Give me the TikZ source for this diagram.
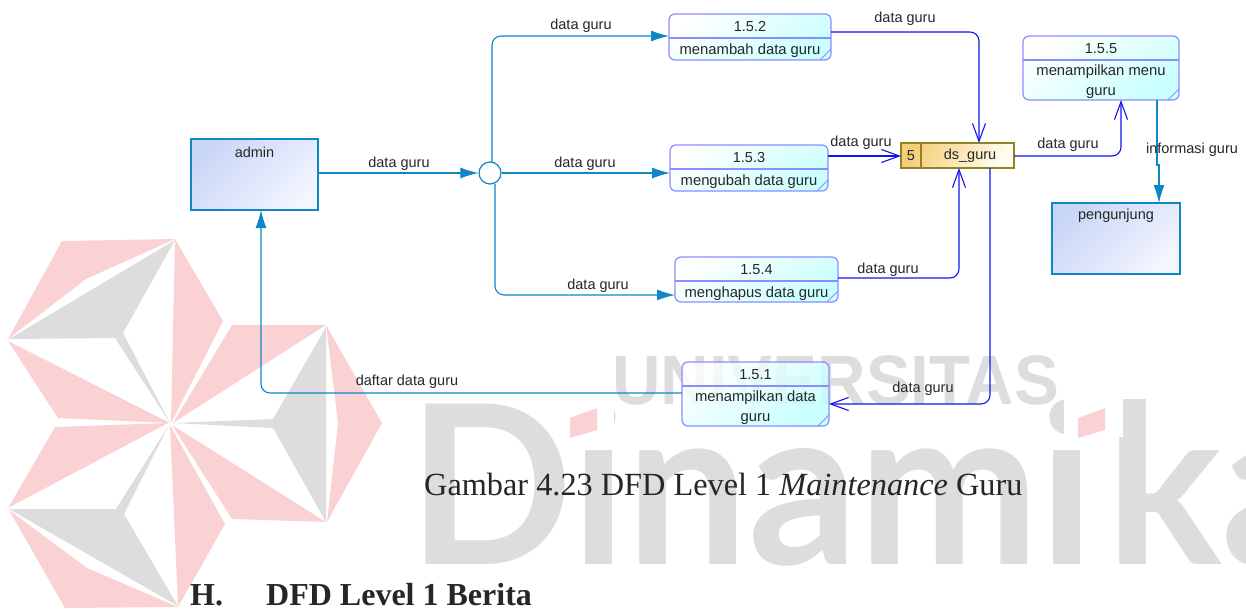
\documentclass[tikz,border=0pt]{standalone}
\usepackage{fontspec}
\setmainfont{Liberation Serif}
\newfontfamily\diafont{Liberation Sans}
\newfontfamily\markfont{Lato}
\usepackage{xcolor}
\usetikzlibrary{arrows.meta,positioning,calc}
\definecolor{linea}{HTML}{0F86C8}
\definecolor{lineb}{HTML}{1414F0}
\definecolor{procedge}{HTML}{8A8CFF}
\definecolor{procfill}{HTML}{BDFFFF}
\definecolor{entfilla}{HTML}{C6D4F6}
\definecolor{entfillb}{HTML}{F2F4FF}
\definecolor{storeedge}{HTML}{8E8420}
\definecolor{storefilla}{HTML}{F6CE78}
\definecolor{storefillb}{HTML}{FFFDF0}
\definecolor{markgrey}{HTML}{DDDDDD}
\definecolor{markpink}{HTML}{FAD2D4}
\tikzset{
	procbox/.style={draw=procedge,line width=1.2pt,rounded corners=6pt,top color=white,bottom color=procfill,shading angle=35,fill opacity=0.82},
	entbox/.style={draw=linea,line width=1.2pt,top color=entfilla,bottom color=entfillb,shading angle=45,fill opacity=0.95},
	flowa/.style={draw=linea,line width=1.1pt,rounded corners=9pt,-{Latex[length=18pt,width=11pt]}},
	flowb/.style={draw=lineb,line width=1.1pt,rounded corners=9pt,-{Straight Barb[length=18pt,width=13pt]}},
	flowlab/.style={font=\diafont\fontsize{14.5}{16}\selectfont,text=black!85,inner sep=0pt},
	capt/.style={text=black!85,inner sep=0pt,anchor=base west},
}
% one process box: name, left, top, right, bottom, divider, number, text
\newcommand{\procnode}[8]{
	\path[procbox] (#2,#3) rectangle (#4,#5);
	\draw[procedge,line width=1.2pt] (#2,#6)--(#4,#6);
	\draw[procedge,line width=1pt] (#4-11,#5)--(#4,#5-11);
	\node[flowlab] (#1) at ({(#2+#4)/2},{#3+13}) {#7};
	\node[flowlab,align=center,font=\diafont\fontsize{14.8}{20}\selectfont] (#1t) at ({(#2+#4)/2},{(#6+#5)/2+2}) {#8};
}
\begin{document}
\begin{tikzpicture}[x=1pt,y=-1pt]
	\useasboundingbox (0,0) rectangle (1246,608);
	\clip (0,0) rectangle (1246,608);
	
	% watermark
	\fill[markpink] (62,241)--(175,239)--(86,279)--(8,339)--cycle;
	\fill[markgrey] (9,339)--(175,240)--(123,333)--(170,423)--(115,338)--cycle;
	\fill[markpink] (175,239)--(223,321)--(171,423)--cycle;
	\fill[markpink] (8,341)--(170,423)--(58,418)--cycle;
	\fill[markpink] (232,325)--(326,325)--(173,423)--cycle;
	\fill[markgrey] (326,327)--(326,522)--(273,428)--(173,423)--(273,419)--cycle;
	\fill[markpink] (326,325)--(382,423)--(327,522)--(338,423)--cycle;
	\fill[markpink] (172,425)--(326,522)--(232,519)--cycle;
	\fill[markpink] (55,427)--(168,423)--(8,508)--cycle;
	\fill[markgrey] (9,509)--(116,509)--(169,425)--(124,514)--(178,606)--cycle;
	\fill[markpink] (9,510)--(87,568)--(178,607)--(65,608)--cycle;
	\fill[markpink] (170,425)--(225,524)--(178,607)--cycle;
	\node[inner sep=0pt,anchor=base west,text=markgrey,xscale=0.975,font=\markfont\bfseries\fontsize{222}{222}\selectfont] (dina) at (408,564) {Dinami\kern12pt ka};
	% i dots of the watermark are pink
	\fill[white] (560,380) rectangle (614,437);
	\fill[white] (1064,380) rectangle (1123,437);
	\fill[markpink] (570,418)--(597,408)--(597,430)--(570,438)--cycle;
	\fill[markpink] (1078,418)--(1105,408)--(1105,430)--(1078,438)--cycle;
	\node[inner sep=0pt,anchor=base west,text=markgrey,xscale=0.96,font=\diafont\bfseries\fontsize{70}{70}\selectfont] (univ) at (612,404) {UNIVERSITAS};
	
	% entities and store
	\path[entbox] (191,139) rectangle (318,210);
	\node[flowlab] (admin) at (254.5,152) {admin};
	\path[entbox] (1052,203) rectangle (1180,274);
	\node[flowlab] (pengunjung) at (1116,216) {pengunjung};
	\coordinate (adminr) at (318,173);
	\coordinate (adminb) at (261,210);
	\coordinate (pengt) at (1159,203);
	
	\path[draw=storeedge,line width=1.2pt,top color=storefilla,bottom color=storefillb,shading angle=60] (901,143) rectangle (1014,168);
	\draw[storeedge,line width=1.2pt] (921,143)--(921,168);
	\node[flowlab] (dsnum) at (911,155.5) {5};
	\node[flowlab] (dsguru) at (970,156) {ds\_guru};
	
	% processes
	\procnode{pb}{669}{14}{831}{60}{38}{1.5.2}{menambah data guru}
	\procnode{pc}{670}{145}{828}{191}{169}{1.5.3}{mengubah data guru}
	\procnode{pd}{675}{257}{838}{302}{281}{1.5.4}{menghapus data guru}
	\procnode{pa}{682}{362}{829}{426}{386}{1.5.1}{menampilkan data\\guru}
	\procnode{pe}{1023}{36}{1179}{100}{60}{1.5.5}{menampilkan menu\\guru}
	
	% junction
	\node[draw=linea,line width=1.2pt,circle,fill=white,minimum size=22pt,inner sep=0pt] (junc) at (490,173) {};
	
	% flows
	\draw[flowa] (adminr)--(junc.west);
	\draw[flowa] (junc.east)--(670,173);
	\draw[flowa] (492,162)--(492,36)--(669,36);
	\draw[flowa] (495,184)--(495,295)--(675,295);
	\draw[flowa] (682,393)--(261,393)--(adminb);
	\draw[flowa,rounded corners=0pt] (1157,100)--(1157,165)--(1159,165)--(pengt);
	
	\draw[flowb] (831,32)--(979,32)--(979,143);
	\draw[flowb] (828,156)--(901,156);
	\draw[flowb] (838,278)--(959,278)--(959,168);
	\draw[flowb] (1014,156)--(1121,156)--(1121,100);
	\draw[flowb] (990,168)--(990,404)--(829,404);
	
	% labels
	\node[flowlab] (la) at (581,26) {data guru};
	\node[flowlab] (lb) at (399,163.5) {data guru};
	\node[flowlab] (lc) at (585,163.5) {data guru};
	\node[flowlab] (ld) at (598,286) {data guru};
	\node[flowlab] (le) at (905,19) {data guru};
	\node[flowlab] (lf) at (861,143) {data guru};
	\node[flowlab] (lg) at (888,270) {data guru};
	\node[flowlab] (lh) at (1068,145) {data guru};
	\node[flowlab] (li) at (923,389) {data guru};
	\node[flowlab] (lj) at (1192,150) {informasi guru};
	\node[flowlab] (lk) at (407,382) {daftar data guru};
	
	% caption and heading
	\node[capt,font=\fontsize{32.3}{33}\selectfont] (gambar) at (424,495) {Gambar 4.23 DFD Level 1 \textit{Maintenance} Guru};
	\node[capt,font=\bfseries\fontsize{32}{33}\selectfont] (hnum) at (190,605) {H.};
	\node[capt,font=\bfseries\fontsize{32}{33}\selectfont] (htitle) at (266,605) {DFD Level 1 Berita};
\end{tikzpicture}
\end{document}
